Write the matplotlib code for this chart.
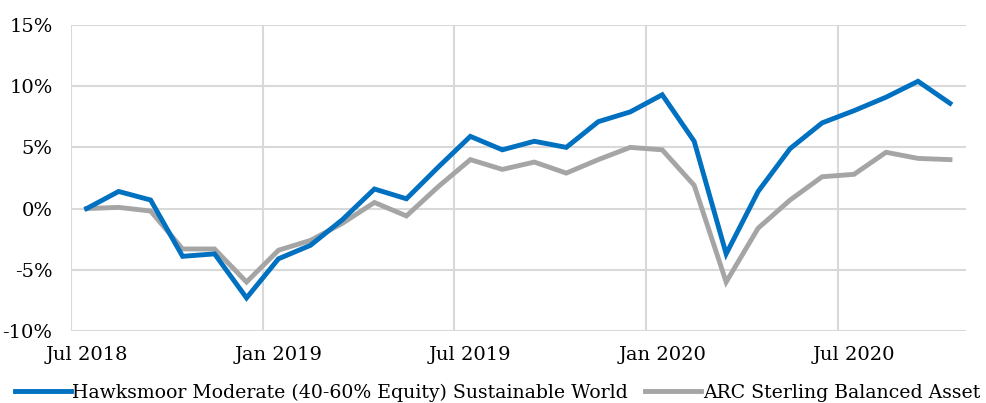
import numpy as np
import matplotlib
matplotlib.use("Agg")
import matplotlib.pyplot as plt
from matplotlib.ticker import FuncFormatter

# monthly returns, Jul 2018 - Oct 2020 (cumulative %)
hawksmoor = [0.0, 1.4, 0.7, -3.9, -3.7, -7.3, -4.1, -3.0, -0.9, 1.6, 0.8, 3.4,
             5.9, 4.8, 5.5, 5.0, 7.1, 7.9, 9.3, 5.5, -3.7, 1.4, 4.9, 7.0,
             8.0, 9.1, 10.4, 8.6]
arc = [0.0, 0.1, -0.2, -3.3, -3.3, -6.0, -3.4, -2.6, -1.2, 0.5, -0.6, 1.8,
       4.0, 3.2, 3.8, 2.9, 4.0, 5.0, 4.8, 1.9, -6.0, -1.6, 0.7, 2.6,
       2.8, 4.6, 4.1, 4.0]
tick_labels = ["Jul 2018", "Jan 2019", "Jul 2019", "Jan 2020", "Jul 2020"]
series_names = ["Hawksmoor Moderate (40-60% Equity) Sustainable World",
                "ARC Sterling Balanced Asset"]

plt.rcParams['font.family'] = ['DejaVu Serif']

fig = plt.figure(figsize=(9.87, 4.03), dpi=100)
ax = fig.add_axes([0.0716, 0.1787, 0.9071, 0.7593])

months = np.arange(len(hawksmoor)) + 0.5
ax.plot(months, hawksmoor, color='#0070C0', lw=3.5, solid_joinstyle='miter',
        label=series_names[0], zorder=3)
ax.plot(months, arc, color='#A5A5A5', lw=3.5, solid_joinstyle='miter',
        label=series_names[1], zorder=2)

ax.set_xlim(0, 28)
ax.set_ylim(-10, 15)
ax.set_yticks(np.arange(-10, 16, 5))
ax.yaxis.set_major_formatter(FuncFormatter(lambda v, p: f"{v:.0f}%"))

# gridlines at month boundaries, labels centred in the month
ax.set_xticks([0, 6, 12, 18, 24])
ax.set_xticklabels([])
ax.set_xticks([0.5, 6.5, 12.5, 18.5, 24.5], minor=True)
ax.set_xticklabels(tick_labels, minor=True)

ax.grid(True, color='#D9D9D9', lw=1.5)
ax.set_axisbelow(True)
for s in ax.spines.values():
    s.set_visible(False)
ax.tick_params(axis='both', which='both', length=0, labelsize=14, colors='#000000')
ax.tick_params(axis='y', pad=13)
ax.tick_params(axis='x', which='minor', pad=11)

fig.legend(loc='center', bbox_to_anchor=(0.504, 0.026), ncol=2, frameon=False,
           fontsize=13.6, handlelength=2.95, handletextpad=0.1, columnspacing=0.9,
           borderaxespad=0)

fig.savefig('out.png', dpi=100)
